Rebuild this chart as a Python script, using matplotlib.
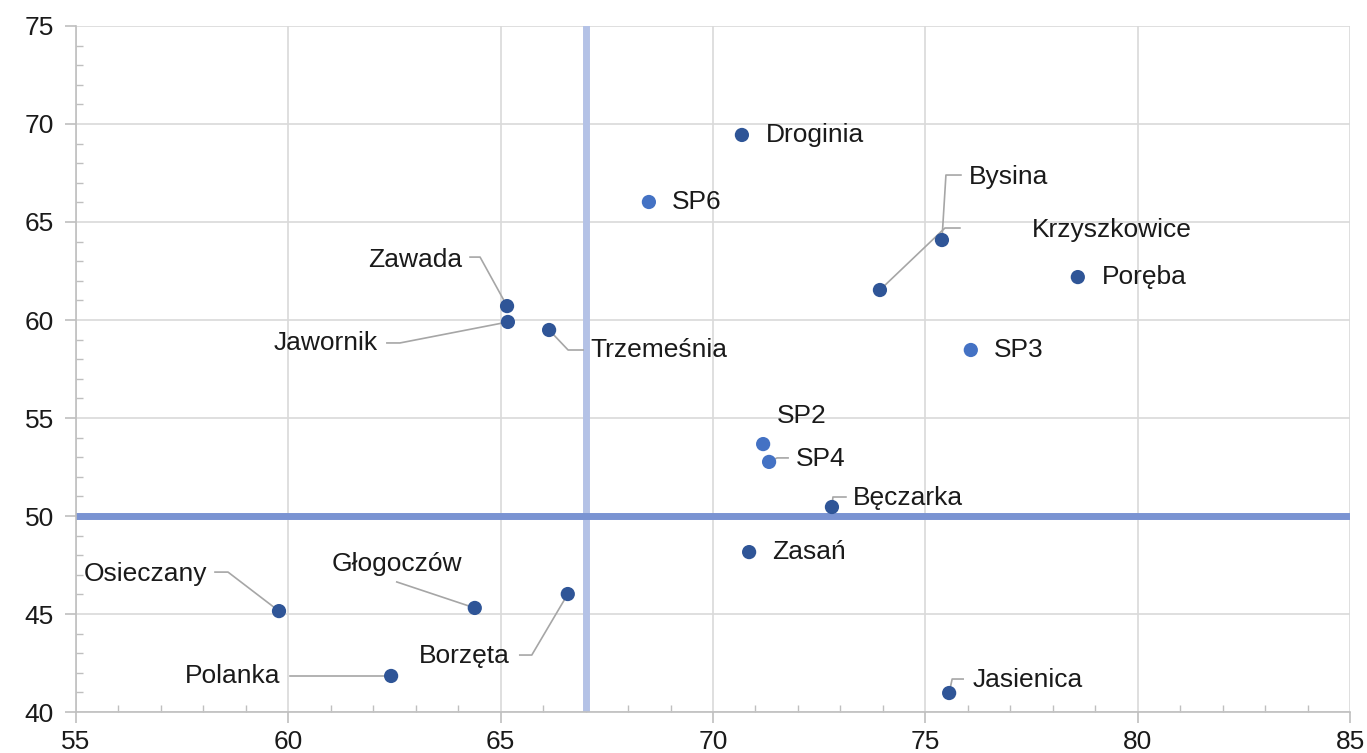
import matplotlib
matplotlib.use('Agg')
import matplotlib.pyplot as plt
from matplotlib.ticker import MultipleLocator

plt.rcParams['font.family'] = ['Liberation Sans', 'DejaVu Sans']

# Data
names = ['Droginia', 'SP6', 'Bysina', 'Krzyszkowice', 'Poręba', 'Zawada', 'Jawornik',
         'Trzemeśnia', 'SP3', 'SP2', 'SP4', 'Bęczarka', 'Zasań', 'Osieczany',
         'Głogoczów', 'Borzęta', 'Polanka', 'Jasienica']
x_vals = [70.68, 68.49, 75.39, 73.93, 78.59, 65.15, 65.17,
          66.14, 76.07, 71.18, 71.32, 72.80, 70.85, 59.78,
          64.39, 66.58, 62.42, 75.56]
y_vals = [69.44, 66.02, 64.08, 61.53, 62.19, 60.71, 59.90,
          59.49, 58.47, 53.67, 52.76, 50.46, 48.16, 45.15,
          45.31, 46.02, 41.84, 40.97]
light = ['SP6', 'SP3', 'SP2', 'SP4']   # drawn in the lighter blue

x_ref = 67
y_ref = 50

# label placement: text offset (px, y up), alignment, leader vertices (px)
labels = {
    'Droginia':     (24, 0, 'left', None),
    'SP6':          (23, 0, 'left', None),
    'Bysina':       (27, 63, 'left', [(0, 0), (4, 65), (19, 65)]),
    'Krzyszkowice': (152, 60, 'left', [(0, 0), (65, 62), (80, 62)]),
    'Poręba':       (24, 0, 'left', None),
    'Zawada':       (-45, 46, 'right', [(0, 0), (-27, 49), (-37, 49)]),
    'Jawornik':     (-130, -21, 'right', [(0, 0), (-108, -21), (-121, -21)]),
    'Trzemeśnia':   (41, -20, 'left', [(0, 0), (19, -20), (34, -20)]),
    'SP3':          (23, 0, 'left', None),
    'SP2':          (14, 28, 'left', None),
    'SP4':          (27, 3, 'left', [(0, 0), (8, 4), (19, 4)]),
    'Bęczarka':     (21, 9, 'left', [(0, 0), (1, 10), (14, 10)]),
    'Zasań':        (23, 0, 'left', None),
    'Osieczany':    (-72, 37, 'right', [(0, 0), (-51, 39), (-64, 39)]),
    'Głogoczów':    (-78, 44, 'center', [(0, 0), (-78, 26)]),
    'Borzęta':      (-58, -62, 'right', [(0, 0), (-36, -61), (-48, -61)]),
    'Polanka':      (-111, 0, 'right', [(0, 0), (-101, 0)]),
    'Jasienica':    (23, 13, 'left', [(0, 0), (3, 14), (14, 14)]),
}

fig = plt.figure(figsize=(13.67, 7.53), dpi=100)
ax = fig.add_axes([0.0556, 0.0544, 0.9320, 0.9111])

ax.set_xlim(55, 85)
ax.set_ylim(40, 75)
ax.xaxis.set_major_locator(MultipleLocator(5))
ax.xaxis.set_minor_locator(MultipleLocator(1))
ax.yaxis.set_major_locator(MultipleLocator(5))
ax.yaxis.set_minor_locator(MultipleLocator(1))
ax.grid(which='major', color='#D9D9D9', linewidth=1.2, zorder=0)
ax.set_axisbelow(True)
for s in ['top', 'right']:
    ax.spines[s].set_visible(False)
for s in ['left', 'bottom']:
    ax.spines[s].set_color('#BFBFBF')
    ax.spines[s].set_linewidth(1.2)
ax.tick_params(which='major', direction='out', length=8, width=1.2, color='#BFBFBF',
               labelsize=19, pad=8, labelcolor='#1a1a1a')
ax.tick_params(axis='x', which='major', pad=5)
ax.tick_params(which='minor', direction='in', length=5, width=1.0, color='#BFBFBF')

ax.axvline(x_ref, color='#B4C2E6', linewidth=5, zorder=1.5)
ax.axhline(y_ref, color='#7A93D2', linewidth=5, zorder=1.6)

colors = ['#4472C4' if n in light else '#2F5597' for n in names]
ax.scatter(x_vals, y_vals, s=105, c=colors, zorder=3, linewidths=0)

fig.canvas.draw()
to_disp = ax.transData
to_data = ax.transData.inverted()
for n, xv, yv in zip(names, x_vals, y_vals):
    dx, dy, ha, leader = labels[n]
    px, py = to_disp.transform((xv, yv))
    tx, ty = to_data.transform((px + dx, py + dy))
    ax.text(tx, ty, n, ha=ha, va='center', fontsize=19, color='#1a1a1a', zorder=4)
    if leader:
        pts = [to_data.transform((px + lx, py + ly)) for lx, ly in leader]
        ax.plot([p[0] for p in pts], [p[1] for p in pts], color='#A6A6A6',
                linewidth=1.2, zorder=2.5, clip_on=False)

fig.savefig('out.png', dpi=100)
